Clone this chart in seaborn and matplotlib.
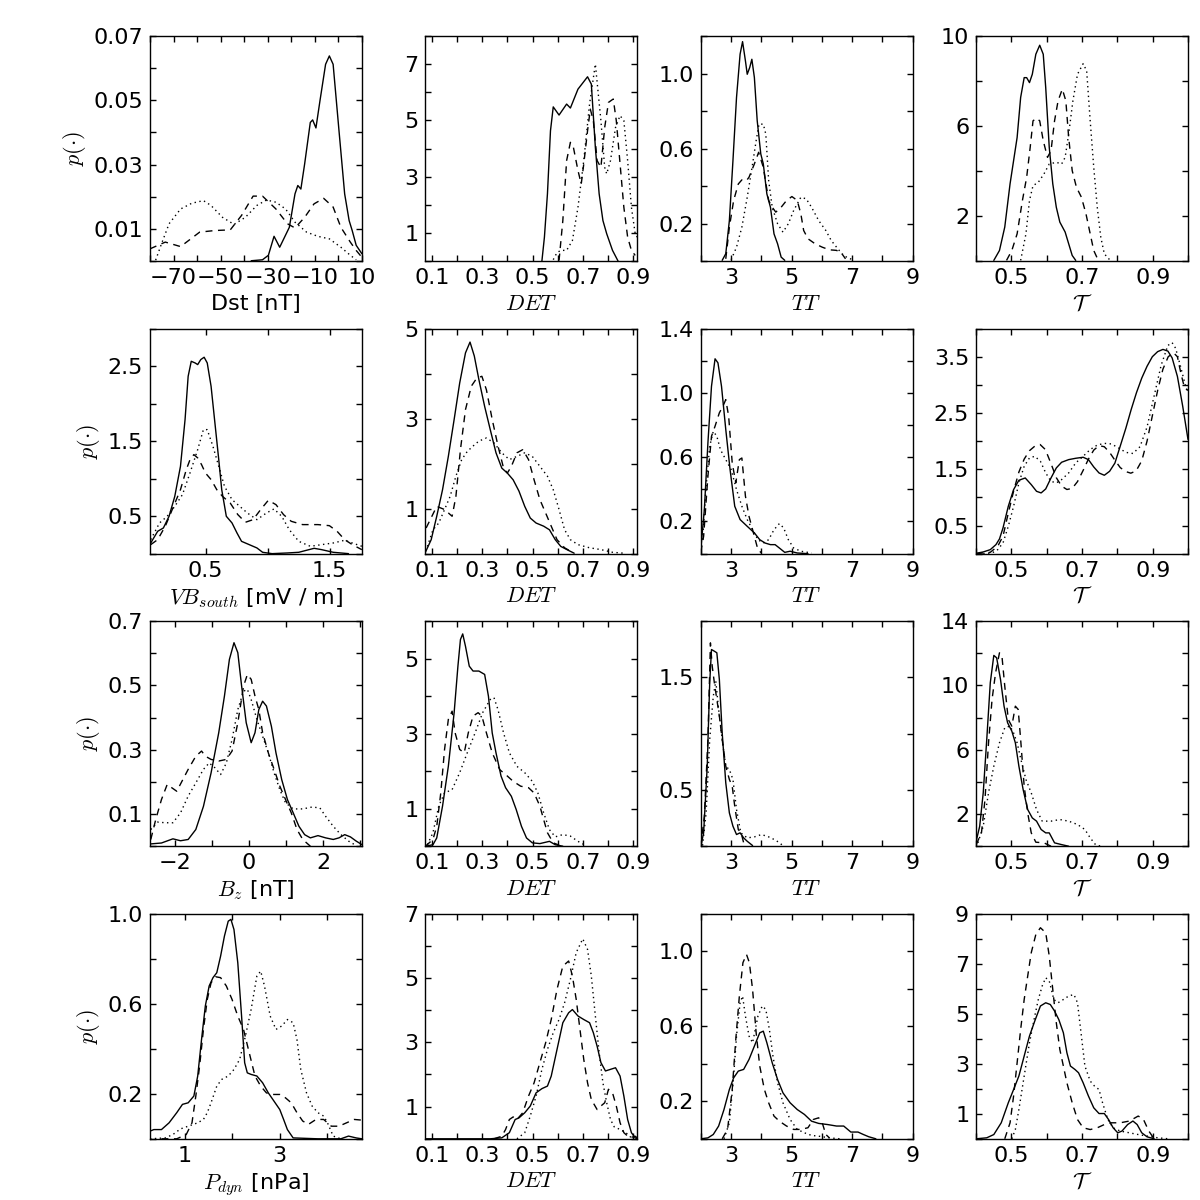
import numpy as np
import pandas as pd
import seaborn as sns
import matplotlib.pyplot as plt

# values (density curves, three per panel)

# ---- row 1: Dst ----
dst_solid_x = [-37.0, -32.2, -29.7, -27.3, -24.9, -20.8, -18.4, -17.2, -15.9, -14.3, -11.9, -10.9, -9.5, -7.8, -5.4, -3.8, -2.2, 0.3, 2.7, 4.6, 5.9, 7.6, 10.0]
dst_solid_y = [0.0001, 0.0004, 0.0018, 0.0077, 0.0043, 0.0105, 0.0209, 0.0235, 0.0224, 0.0302, 0.0431, 0.0439, 0.0414, 0.0498, 0.0612, 0.0638, 0.0612, 0.0405, 0.0209, 0.0126, 0.0095, 0.0049, 0.0023]
dst_dashed_x = [-80, -73.5, -67.0, -58.9, -52.4, -45.9, -41.1, -36.2, -32.2, -26.5, -21.6, -18.4, -14.3, -10.3, -6.2, -2.2, 1.1, 5.1, 7.6, 10.0]
dst_dashed_y = [0.0038, 0.0059, 0.0045, 0.0090, 0.0095, 0.0097, 0.0142, 0.0202, 0.0202, 0.0162, 0.0116, 0.0103, 0.0136, 0.0178, 0.0195, 0.0168, 0.0105, 0.0059, 0.0033, 0.0012]
dst_dotted_x = [-77.6, -75.1, -71.9, -67.0, -62.2, -57.3, -54.1, -49.2, -44.3, -39.5, -34.6, -30.5, -26.5, -22.4, -18.4, -13.5, -8.7, -3.8, 1.1, 5.1, 7.6]
dst_dotted_y = [0.0003, 0.0054, 0.0116, 0.0162, 0.0180, 0.0188, 0.0173, 0.0136, 0.0114, 0.0136, 0.0173, 0.0190, 0.0183, 0.0162, 0.0121, 0.0090, 0.0077, 0.0069, 0.0043, 0.0018, 0.0004]

det1_solid_x = [0.537, 0.547, 0.559, 0.571, 0.582, 0.605, 0.635, 0.650, 0.680, 0.718, 0.733, 0.749, 0.764, 0.779, 0.794, 0.817, 0.839]
det1_solid_y = [0.0, 0.85, 2.39, 4.63, 5.48, 5.19, 5.58, 5.44, 6.11, 6.55, 6.29, 4.04, 2.39, 1.44, 0.97, 0.38, 0.0]
det1_dashed_x = [0.605, 0.620, 0.635, 0.650, 0.662, 0.680, 0.693, 0.703, 0.718, 0.729, 0.741, 0.756, 0.771, 0.786, 0.801, 0.820, 0.832, 0.847, 0.862, 0.877, 0.892, 0.907]
det1_dashed_y = [0.02, 1.44, 3.57, 4.22, 4.04, 3.22, 2.74, 3.45, 4.63, 5.40, 4.99, 3.57, 3.33, 4.75, 5.64, 5.76, 4.99, 3.45, 1.91, 0.85, 0.38, 0.20]
det1_dotted_x = [0.582, 0.597, 0.612, 0.635, 0.658, 0.680, 0.703, 0.726, 0.749, 0.771, 0.786, 0.794, 0.809, 0.829, 0.847, 0.862, 0.877, 0.892, 0.907, 0.915]
det1_dotted_y = [0.05, 0.30, 0.38, 0.38, 0.73, 1.91, 3.57, 5.58, 7.0, 4.99, 3.33, 3.10, 3.57, 4.75, 5.17, 4.99, 3.57, 1.91, 0.97, 0.85]

tt1_solid_x = [2.708, 2.826, 2.945, 3.063, 3.181, 3.299, 3.381, 3.476, 3.535, 3.617, 3.688, 3.771, 3.865, 3.983, 4.066, 4.184, 4.302, 4.420, 4.538, 4.656, 4.775]
tt1_solid_y = [0.004, 0.039, 0.216, 0.535, 0.872, 1.103, 1.170, 1.067, 0.996, 1.032, 1.076, 0.979, 0.748, 0.571, 0.518, 0.358, 0.287, 0.145, 0.092, 0.021, 0.004]
tt1_dashed_x = [2.826, 2.945, 3.086, 3.240, 3.358, 3.511, 3.594, 3.771, 3.912, 4.066, 4.243, 4.361, 4.479, 4.656, 4.834, 5.011, 5.188, 5.306, 5.400, 5.542, 5.778, 6.014, 6.250, 6.486, 6.664, 6.782]
tt1_dashed_y = [0.012, 0.181, 0.323, 0.411, 0.433, 0.429, 0.447, 0.518, 0.580, 0.500, 0.323, 0.287, 0.261, 0.287, 0.323, 0.344, 0.323, 0.252, 0.163, 0.119, 0.092, 0.074, 0.060, 0.057, 0.039, 0.012]
tt1_dotted_x = [3.004, 3.181, 3.358, 3.535, 3.712, 3.830, 3.924, 4.066, 4.149, 4.243, 4.361, 4.538, 4.716, 4.893, 5.070, 5.306, 5.483, 5.660, 5.896, 6.132, 6.309, 6.486, 6.664, 6.841, 7.077]
tt1_dotted_y = [0.007, 0.074, 0.181, 0.340, 0.518, 0.642, 0.730, 0.730, 0.677, 0.429, 0.287, 0.199, 0.154, 0.199, 0.270, 0.340, 0.332, 0.287, 0.216, 0.163, 0.110, 0.074, 0.039, 0.018, 0.004]

tau1_solid_x = [0.450, 0.466, 0.481, 0.496, 0.506, 0.516, 0.526, 0.536, 0.543, 0.551, 0.559, 0.569, 0.580, 0.590, 0.597, 0.607, 0.617, 0.627, 0.637, 0.652, 0.662, 0.672, 0.682]
tau1_solid_y = [0.03, 0.47, 1.51, 3.43, 4.46, 5.49, 7.27, 8.15, 8.15, 7.93, 8.30, 9.19, 9.59, 9.19, 7.71, 5.05, 3.43, 2.39, 1.73, 1.29, 0.77, 0.25, 0.03]
tau1_dashed_x = [0.486, 0.501, 0.516, 0.531, 0.543, 0.553, 0.561, 0.571, 0.580, 0.590, 0.602, 0.612, 0.622, 0.632, 0.644, 0.654, 0.662, 0.672, 0.684, 0.698, 0.711, 0.723, 0.733, 0.745]
tau1_dashed_y = [0.03, 0.47, 1.21, 2.69, 3.72, 5.05, 6.23, 6.35, 6.23, 5.35, 4.61, 4.90, 6.23, 7.12, 7.64, 7.12, 5.49, 4.02, 3.28, 2.84, 2.10, 1.21, 0.47, 0.06]
tau1_dotted_x = [0.526, 0.541, 0.551, 0.561, 0.576, 0.592, 0.607, 0.627, 0.642, 0.652, 0.662, 0.674, 0.687, 0.703, 0.713, 0.723, 0.733, 0.743, 0.753, 0.763, 0.778]
tau1_dotted_y = [0.03, 1.21, 2.69, 3.35, 3.50, 3.87, 4.31, 4.39, 4.31, 4.61, 5.64, 7.12, 8.30, 8.77, 8.45, 6.23, 4.17, 2.39, 1.06, 0.32, 0.06]

# ---- row 2: VB_south ----
vb_solid_x = [0.056, 0.112, 0.158, 0.204, 0.250, 0.296, 0.333, 0.358, 0.383, 0.414, 0.435, 0.460, 0.487, 0.512, 0.543, 0.574, 0.605, 0.629, 0.666, 0.712, 0.752, 0.789, 0.851, 0.913, 0.959, 1.036, 1.159, 1.251, 1.375, 1.436, 1.529, 1.652]
vb_solid_y = [0.142, 0.298, 0.342, 0.498, 0.764, 1.164, 1.787, 2.364, 2.564, 2.542, 2.52, 2.587, 2.618, 2.542, 2.231, 1.742, 1.253, 0.853, 0.498, 0.409, 0.276, 0.164, 0.12, 0.076, 0.018, 0.0, 0.009, 0.018, 0.071, 0.053, 0.018, 0.0]
vb_dashed_x = [0.056, 0.112, 0.173, 0.235, 0.296, 0.343, 0.373, 0.404, 0.435, 0.466, 0.497, 0.543, 0.589, 0.635, 0.697, 0.759, 0.820, 0.882, 0.943, 1.005, 1.067, 1.128, 1.190, 1.282, 1.405, 1.498, 1.560, 1.621, 1.683, 1.760]
vb_dashed_y = [0.12, 0.187, 0.364, 0.609, 0.853, 1.120, 1.253, 1.320, 1.276, 1.187, 1.076, 0.987, 0.853, 0.764, 0.676, 0.520, 0.418, 0.453, 0.587, 0.711, 0.653, 0.520, 0.431, 0.387, 0.387, 0.373, 0.298, 0.187, 0.120, 0.053]
vb_dotted_x = [0.056, 0.127, 0.189, 0.250, 0.312, 0.373, 0.435, 0.481, 0.512, 0.558, 0.605, 0.651, 0.712, 0.774, 0.836, 0.913, 0.990, 1.051, 1.113, 1.174, 1.251, 1.344, 1.436, 1.529, 1.621, 1.683, 1.760]
vb_dotted_y = [0.187, 0.409, 0.498, 0.631, 0.787, 1.076, 1.387, 1.653, 1.653, 1.431, 1.164, 0.898, 0.720, 0.631, 0.542, 0.453, 0.542, 0.596, 0.498, 0.320, 0.164, 0.098, 0.120, 0.142, 0.178, 0.142, 0.098]

det2_solid_x = [0.075, 0.098, 0.120, 0.143, 0.166, 0.189, 0.211, 0.234, 0.252, 0.269, 0.287, 0.310, 0.332, 0.355, 0.378, 0.400, 0.423, 0.446, 0.469, 0.491, 0.514, 0.544, 0.567, 0.590, 0.612, 0.643, 0.665]
det2_solid_y = [0.03, 0.31, 0.83, 1.42, 2.16, 2.98, 3.79, 4.46, 4.70, 4.39, 3.87, 3.27, 2.76, 2.24, 1.90, 1.79, 1.64, 1.39, 1.05, 0.79, 0.68, 0.61, 0.53, 0.31, 0.16, 0.07, 0.01]
det2_dashed_x = [0.078, 0.120, 0.151, 0.181, 0.196, 0.214, 0.234, 0.257, 0.279, 0.299, 0.317, 0.340, 0.363, 0.385, 0.400, 0.416, 0.438, 0.461, 0.484, 0.506, 0.529, 0.552, 0.574, 0.597, 0.627, 0.658]
det2_dashed_y = [0.57, 1.05, 0.98, 0.83, 1.27, 2.31, 3.20, 3.72, 3.90, 3.94, 3.64, 2.98, 2.39, 1.90, 1.79, 1.94, 2.24, 2.31, 2.09, 1.64, 1.20, 0.90, 0.61, 0.31, 0.13, 0.03]
det2_dotted_x = [0.083, 0.105, 0.128, 0.151, 0.173, 0.196, 0.219, 0.241, 0.264, 0.287, 0.317, 0.347, 0.378, 0.408, 0.438, 0.469, 0.499, 0.529, 0.559, 0.582, 0.605, 0.627, 0.650, 0.680, 0.726, 0.771, 0.817, 0.862]
det2_dotted_y = [0.16, 0.53, 0.68, 0.98, 1.27, 1.72, 2.09, 2.27, 2.39, 2.50, 2.57, 2.46, 2.24, 2.09, 2.16, 2.24, 2.16, 1.94, 1.72, 1.42, 0.98, 0.53, 0.31, 0.20, 0.13, 0.09, 0.03, 0.01]

tt2_solid_x = [2.0, 2.118, 2.236, 2.354, 2.472, 2.567, 2.685, 2.826, 2.968, 3.122, 3.299, 3.535, 3.771, 3.948, 4.125, 4.302, 4.456, 4.597, 4.775, 4.952, 5.188, 5.542]
tt2_solid_y = [0.025, 0.274, 0.689, 1.041, 1.212, 1.187, 1.041, 0.772, 0.523, 0.295, 0.212, 0.170, 0.129, 0.087, 0.066, 0.056, 0.056, 0.035, 0.008, 0.015, 0.004, 0.0]
tt2_dashed_x = [2.0, 2.094, 2.236, 2.354, 2.472, 2.614, 2.732, 2.826, 2.921, 3.039, 3.157, 3.275, 3.358, 3.476, 3.594, 3.712, 3.830, 3.889, 4.007]
tt2_dashed_y = [0.008, 0.108, 0.481, 0.730, 0.793, 0.876, 0.917, 0.958, 0.855, 0.564, 0.440, 0.585, 0.595, 0.357, 0.232, 0.149, 0.066, 0.025, 0.004]
tt2_dotted_x = [2.059, 2.177, 2.295, 2.413, 2.531, 2.649, 2.826, 3.004, 3.181, 3.358, 3.535, 3.712, 3.889, 4.066, 4.243, 4.420, 4.597, 4.739, 4.893, 5.070, 5.306, 5.660]
tt2_dotted_y = [0.087, 0.419, 0.668, 0.761, 0.730, 0.647, 0.585, 0.523, 0.398, 0.295, 0.212, 0.149, 0.087, 0.066, 0.087, 0.149, 0.187, 0.160, 0.087, 0.035, 0.015, 0.004]

tau2_solid_x = [0.400, 0.420, 0.440, 0.456, 0.466, 0.476, 0.491, 0.506, 0.521, 0.539, 0.556, 0.571, 0.584, 0.597, 0.612, 0.627, 0.642, 0.662, 0.682, 0.703, 0.718, 0.733, 0.748, 0.763, 0.778, 0.793, 0.808, 0.824, 0.839, 0.854, 0.869, 0.884, 0.899, 0.914, 0.929, 0.943, 0.955, 0.970, 0.985, 1.0]
tau2_solid_y = [0.006, 0.030, 0.071, 0.160, 0.261, 0.456, 0.841, 1.138, 1.304, 1.345, 1.227, 1.108, 1.079, 1.150, 1.345, 1.523, 1.624, 1.671, 1.695, 1.713, 1.671, 1.541, 1.434, 1.393, 1.464, 1.61, 1.91, 2.23, 2.56, 2.86, 3.12, 3.33, 3.50, 3.59, 3.63, 3.60, 3.48, 3.15, 2.62, 2.03]
tau2_dashed_x = [0.400, 0.440, 0.461, 0.476, 0.491, 0.506, 0.521, 0.536, 0.551, 0.566, 0.581, 0.596, 0.612, 0.627, 0.642, 0.657, 0.672, 0.687, 0.703, 0.718, 0.733, 0.748, 0.763, 0.778, 0.793, 0.808, 0.823, 0.838, 0.853, 0.869, 0.884, 0.899, 0.914, 0.929, 0.944, 0.959, 0.970, 0.980, 0.990, 1.0]
tau2_dashed_y = [0.0, 0.024, 0.13, 0.31, 0.72, 1.11, 1.45, 1.68, 1.83, 1.91, 1.94, 1.85, 1.60, 1.35, 1.20, 1.14, 1.16, 1.28, 1.48, 1.68, 1.84, 1.92, 1.90, 1.80, 1.66, 1.53, 1.46, 1.43, 1.47, 1.65, 2.00, 2.45, 2.90, 3.28, 3.50, 3.57, 3.50, 3.20, 2.95, 2.90]
tau2_dotted_x = [0.420, 0.445, 0.461, 0.476, 0.491, 0.506, 0.521, 0.536, 0.551, 0.566, 0.582, 0.597, 0.612, 0.627, 0.642, 0.662, 0.682, 0.703, 0.723, 0.743, 0.763, 0.783, 0.803, 0.824, 0.844, 0.864, 0.884, 0.904, 0.924, 0.943, 0.955, 0.965, 0.980, 0.993, 1.0]
tau2_dotted_y = [0.0, 0.012, 0.071, 0.19, 0.486, 0.841, 1.256, 1.553, 1.701, 1.73, 1.641, 1.434, 1.286, 1.256, 1.316, 1.434, 1.612, 1.73, 1.85, 1.93, 1.96, 1.95, 1.88, 1.80, 1.78, 1.90, 2.25, 2.80, 3.35, 3.70, 3.75, 3.65, 3.30, 2.98, 2.86]

# ---- row 3: Bz ----
bz_solid_x = [-2.670, -2.361, -2.051, -1.845, -1.639, -1.433, -1.227, -1.021, -0.814, -0.660, -0.526, -0.402, -0.299, -0.196, -0.072, 0.062, 0.165, 0.268, 0.371, 0.474, 0.608, 0.732, 0.887, 1.041, 1.196, 1.351, 1.505, 1.660, 1.866, 2.072, 2.278, 2.433, 2.588, 2.742, 2.897, 3.052]
bz_solid_y = [0.007, 0.010, 0.023, 0.017, 0.021, 0.052, 0.124, 0.228, 0.353, 0.467, 0.581, 0.633, 0.602, 0.498, 0.384, 0.322, 0.353, 0.425, 0.451, 0.436, 0.373, 0.290, 0.207, 0.145, 0.104, 0.062, 0.036, 0.026, 0.033, 0.026, 0.021, 0.026, 0.036, 0.029, 0.016, 0.005]
bz_dashed_x = [-2.649, -2.515, -2.361, -2.206, -1.948, -1.639, -1.433, -1.278, -1.175, -1.021, -0.814, -0.608, -0.454, -0.299, -0.144, -0.041, 0.062, 0.165, 0.268, 0.371, 0.526, 0.681, 0.835, 0.990, 1.144, 1.299, 1.454, 1.660]
bz_dashed_y = [0.021, 0.083, 0.145, 0.192, 0.171, 0.239, 0.280, 0.296, 0.280, 0.270, 0.265, 0.270, 0.296, 0.384, 0.498, 0.534, 0.519, 0.467, 0.425, 0.353, 0.290, 0.239, 0.187, 0.145, 0.104, 0.052, 0.021, 0.0]
bz_dotted_x = [-2.649, -2.464, -2.258, -2.051, -1.845, -1.639, -1.433, -1.227, -1.072, -0.917, -0.763, -0.608, -0.454, -0.299, -0.144, -0.041, 0.062, 0.217, 0.371, 0.526, 0.681, 0.835, 0.990, 1.196, 1.454, 1.711, 1.918, 2.072, 2.278, 2.485, 2.691, 2.897]
bz_dotted_y = [0.052, 0.075, 0.073, 0.073, 0.104, 0.156, 0.197, 0.239, 0.259, 0.244, 0.223, 0.259, 0.332, 0.425, 0.482, 0.488, 0.456, 0.394, 0.342, 0.290, 0.228, 0.176, 0.135, 0.116, 0.116, 0.122, 0.119, 0.093, 0.062, 0.036, 0.016, 0.002]

det3_solid_x = [0.075, 0.105, 0.120, 0.143, 0.166, 0.189, 0.204, 0.214, 0.223, 0.234, 0.249, 0.264, 0.287, 0.310, 0.325, 0.340, 0.355, 0.375, 0.393, 0.416, 0.435, 0.456, 0.476, 0.499, 0.529, 0.567, 0.590, 0.620]
det3_solid_y = [0.0, 0.04, 0.22, 1.07, 2.13, 3.56, 4.80, 5.51, 5.66, 5.33, 4.80, 4.67, 4.67, 4.58, 4.00, 3.02, 2.49, 1.87, 1.56, 1.33, 0.98, 0.53, 0.22, 0.09, 0.07, 0.13, 0.04, 0.0]
det3_dashed_x = [0.075, 0.105, 0.120, 0.136, 0.151, 0.166, 0.181, 0.193, 0.211, 0.229, 0.245, 0.264, 0.284, 0.299, 0.317, 0.340, 0.370, 0.400, 0.423, 0.453, 0.484, 0.506, 0.529, 0.544, 0.559, 0.582, 0.605]
det3_dashed_y = [0.0, 0.18, 0.53, 1.42, 2.58, 3.38, 3.60, 3.02, 2.58, 2.49, 3.02, 3.47, 3.56, 3.47, 3.02, 2.49, 2.04, 1.87, 1.73, 1.60, 1.56, 1.42, 1.07, 0.71, 0.36, 0.09, 0.03]
det3_dotted_x = [0.083, 0.105, 0.128, 0.151, 0.181, 0.211, 0.241, 0.272, 0.302, 0.332, 0.347, 0.363, 0.385, 0.408, 0.438, 0.469, 0.499, 0.521, 0.544, 0.567, 0.590, 0.620, 0.650, 0.680, 0.711]
det3_dotted_y = [0.04, 0.36, 1.07, 1.42, 1.51, 1.96, 2.49, 3.02, 3.56, 3.91, 3.96, 3.64, 3.02, 2.49, 2.13, 1.96, 1.73, 1.42, 0.89, 0.44, 0.25, 0.31, 0.27, 0.13, 0.02]

tt3_solid_x = [2.0, 2.094, 2.213, 2.295, 2.354, 2.449, 2.531, 2.614, 2.708, 2.826, 2.945, 3.063, 3.181, 3.299, 3.417, 3.535, 3.712]
tt3_solid_y = [0.0, 0.119, 0.711, 1.452, 1.748, 1.733, 1.719, 1.481, 1.007, 0.563, 0.296, 0.178, 0.104, 0.119, 0.074, 0.044, 0.006]
tt3_dashed_x = [2.0, 2.118, 2.236, 2.319, 2.378, 2.449, 2.531, 2.614, 2.708, 2.826, 2.945, 3.039, 3.122, 3.240, 3.334, 3.417, 3.535]
tt3_dashed_y = [0.0, 0.267, 0.948, 1.807, 1.600, 1.452, 1.304, 1.156, 0.948, 0.711, 0.593, 0.533, 0.356, 0.148, 0.119, 0.030, 0.0]
tt3_dotted_x = [2.059, 2.177, 2.295, 2.413, 2.496, 2.590, 2.708, 2.826, 2.945, 3.063, 3.181, 3.322, 3.535, 3.771, 4.007, 4.243, 4.479, 4.716]
tt3_dotted_y = [0.006, 0.296, 0.948, 1.333, 1.467, 1.215, 0.948, 0.711, 0.681, 0.593, 0.326, 0.119, 0.074, 0.083, 0.104, 0.083, 0.053, 0.006]

tau3_solid_x = [0.400, 0.410, 0.420, 0.430, 0.440, 0.450, 0.458, 0.469, 0.479, 0.489, 0.501, 0.511, 0.521, 0.533, 0.546, 0.559, 0.571, 0.584, 0.597, 0.607, 0.622, 0.642, 0.662]
tau3_solid_y = [0.31, 1.24, 3.32, 6.64, 10.17, 11.87, 11.72, 10.37, 8.71, 7.68, 7.16, 6.43, 4.98, 3.53, 2.28, 1.76, 1.56, 1.04, 0.83, 0.83, 0.21, 0.10, 0.0]
tau3_dashed_x = [0.400, 0.415, 0.425, 0.435, 0.445, 0.455, 0.466, 0.473, 0.481, 0.491, 0.501, 0.511, 0.519, 0.526, 0.536, 0.546, 0.556, 0.569, 0.592, 0.612]
tau3_dashed_y = [0.10, 0.83, 2.90, 6.43, 9.13, 10.79, 12.03, 11.83, 9.96, 7.88, 7.47, 8.71, 8.51, 6.64, 3.73, 2.07, 0.83, 0.25, 0.21, 0.0]
tau3_dotted_x = [0.405, 0.420, 0.435, 0.450, 0.466, 0.481, 0.496, 0.506, 0.516, 0.529, 0.541, 0.556, 0.571, 0.587, 0.612, 0.637, 0.662, 0.687, 0.708, 0.723, 0.738, 0.753]
tau3_dotted_y = [0.21, 1.24, 3.32, 4.98, 6.43, 7.37, 7.47, 7.05, 6.43, 5.19, 4.15, 3.32, 2.28, 1.56, 1.56, 1.66, 1.56, 1.35, 1.04, 0.52, 0.10, 0.0]

# ---- row 4: Pdyn ----
pdyn_solid_x = [0.258, 0.339, 0.500, 0.661, 0.823, 0.944, 1.065, 1.185, 1.266, 1.347, 1.427, 1.508, 1.589, 1.669, 1.750, 1.831, 1.911, 1.968, 2.032, 2.113, 2.193, 2.258, 2.314, 2.395, 2.516, 2.637, 2.758, 2.879, 3.000, 3.081, 3.161, 3.282, 3.806, 4.290, 4.452, 4.613, 4.734]
pdyn_solid_y = [0.034, 0.041, 0.041, 0.071, 0.116, 0.153, 0.160, 0.190, 0.279, 0.441, 0.590, 0.679, 0.716, 0.738, 0.812, 0.901, 0.967, 0.975, 0.930, 0.782, 0.545, 0.338, 0.293, 0.286, 0.279, 0.249, 0.204, 0.167, 0.130, 0.086, 0.041, 0.004, 0.0, 0.0, 0.012, 0.004, 0.0]
pdyn_dashed_x = [0.500, 0.823, 1.024, 1.145, 1.226, 1.306, 1.387, 1.468, 1.548, 1.645, 1.750, 1.871, 1.992, 2.113, 2.234, 2.355, 2.476, 2.597, 2.718, 2.839, 3.000, 3.121, 3.242, 3.363, 3.484, 3.605, 3.766, 3.927, 4.089, 4.250, 4.411, 4.573, 4.734]
pdyn_dashed_y = [0.0, 0.0, 0.019, 0.071, 0.190, 0.323, 0.486, 0.619, 0.693, 0.720, 0.716, 0.679, 0.619, 0.545, 0.486, 0.382, 0.279, 0.234, 0.204, 0.197, 0.197, 0.182, 0.160, 0.116, 0.079, 0.064, 0.086, 0.086, 0.056, 0.056, 0.071, 0.086, 0.083]
pdyn_dotted_x = [0.258, 0.581, 0.742, 0.903, 1.065, 1.266, 1.387, 1.468, 1.548, 1.669, 1.774, 1.911, 2.032, 2.153, 2.274, 2.395, 2.516, 2.597, 2.677, 2.798, 2.919, 3.040, 3.161, 3.282, 3.363, 3.444, 3.565, 3.685, 3.806, 3.927, 4.008, 4.129, 4.290]
pdyn_dotted_y = [0.0, 0.004, 0.019, 0.044, 0.056, 0.071, 0.086, 0.116, 0.160, 0.234, 0.264, 0.279, 0.308, 0.353, 0.456, 0.575, 0.723, 0.745, 0.679, 0.545, 0.486, 0.501, 0.530, 0.516, 0.441, 0.308, 0.204, 0.145, 0.116, 0.101, 0.071, 0.012, 0.0]

det4_solid_x = [0.075, 0.332, 0.378, 0.408, 0.431, 0.446, 0.469, 0.491, 0.514, 0.537, 0.559, 0.574, 0.597, 0.620, 0.643, 0.658, 0.680, 0.703, 0.726, 0.741, 0.756, 0.771, 0.789, 0.809, 0.829, 0.847, 0.862, 0.877, 0.892, 0.907, 0.915]
det4_solid_y = [0.0, 0.0, 0.03, 0.19, 0.60, 0.65, 0.81, 1.02, 1.43, 1.56, 1.64, 1.95, 2.78, 3.61, 3.92, 4.02, 3.82, 3.71, 3.61, 3.30, 2.88, 2.37, 2.11, 2.16, 2.21, 1.95, 1.33, 0.60, 0.19, 0.03, 0.0]
det4_dashed_x = [0.347, 0.378, 0.393, 0.408, 0.423, 0.438, 0.461, 0.484, 0.506, 0.529, 0.552, 0.574, 0.597, 0.620, 0.643, 0.658, 0.673, 0.688, 0.703, 0.718, 0.733, 0.756, 0.771, 0.786, 0.801, 0.817, 0.832, 0.847, 0.862, 0.885, 0.907, 0.915]
det4_dashed_y = [0.0, 0.08, 0.29, 0.60, 0.68, 0.60, 0.81, 1.33, 1.74, 2.37, 2.99, 3.71, 4.65, 5.37, 5.53, 5.06, 4.34, 3.40, 2.47, 1.74, 1.22, 0.91, 1.02, 1.12, 1.54, 1.43, 1.02, 0.50, 0.19, 0.03, 0.08, 0.03]
det4_dotted_x = [0.438, 0.469, 0.491, 0.514, 0.537, 0.559, 0.582, 0.605, 0.627, 0.650, 0.673, 0.699, 0.718, 0.733, 0.749, 0.764, 0.779, 0.794, 0.809, 0.824, 0.847, 0.870, 0.892]
det4_dotted_y = [0.0, 0.19, 0.71, 1.33, 2.16, 2.78, 3.30, 3.71, 4.23, 4.96, 5.79, 6.22, 5.89, 5.06, 3.82, 2.68, 1.74, 1.12, 0.60, 0.37, 0.29, 0.19, 0.03]

tt4_solid_x = [2.0, 2.236, 2.413, 2.590, 2.767, 2.945, 3.086, 3.240, 3.417, 3.594, 3.771, 3.948, 4.066, 4.184, 4.361, 4.538, 4.716, 4.952, 5.188, 5.424, 5.660, 5.896, 6.191, 6.486, 6.723, 6.959, 7.195, 7.372, 7.549, 7.785]
tt4_solid_y = [0.0, 0.005, 0.023, 0.068, 0.156, 0.263, 0.325, 0.361, 0.370, 0.423, 0.494, 0.565, 0.574, 0.512, 0.405, 0.316, 0.245, 0.192, 0.156, 0.130, 0.094, 0.082, 0.076, 0.068, 0.068, 0.036, 0.036, 0.023, 0.011, 0.0]
tt4_dashed_x = [2.708, 2.885, 3.039, 3.157, 3.275, 3.393, 3.511, 3.606, 3.712, 3.830, 3.948, 4.102, 4.243, 4.420, 4.597, 4.834, 5.070, 5.306, 5.542, 5.719, 5.896, 6.014, 6.132, 6.250]
tt4_dashed_y = [0.0, 0.050, 0.263, 0.530, 0.761, 0.939, 0.983, 0.939, 0.796, 0.565, 0.388, 0.263, 0.192, 0.121, 0.094, 0.068, 0.050, 0.050, 0.059, 0.103, 0.112, 0.085, 0.023, 0.005]
tt4_dotted_x = [2.767, 2.945, 3.086, 3.181, 3.299, 3.381, 3.476, 3.594, 3.712, 3.889, 4.031, 4.149, 4.267, 4.385, 4.538, 4.716, 4.952, 5.188, 5.424, 5.660, 5.896, 6.250, 6.604]
tt4_dotted_y = [0.0, 0.085, 0.334, 0.548, 0.725, 0.761, 0.654, 0.548, 0.512, 0.654, 0.708, 0.690, 0.583, 0.441, 0.299, 0.192, 0.103, 0.050, 0.032, 0.018, 0.014, 0.005, 0.0]

tau4_solid_x = [0.400, 0.430, 0.450, 0.471, 0.491, 0.506, 0.521, 0.536, 0.551, 0.566, 0.582, 0.597, 0.610, 0.622, 0.634, 0.647, 0.657, 0.667, 0.680, 0.690, 0.703, 0.718, 0.733, 0.748, 0.763, 0.775, 0.788, 0.801, 0.813, 0.829, 0.844, 0.856, 0.869, 0.884, 0.904]
tau4_solid_y = [0.0, 0.04, 0.17, 0.64, 1.44, 1.97, 2.51, 3.31, 4.11, 4.71, 5.31, 5.44, 5.37, 5.11, 4.77, 4.24, 3.44, 2.91, 2.77, 2.64, 2.24, 1.71, 1.24, 1.01, 1.01, 0.77, 0.44, 0.24, 0.31, 0.57, 0.71, 0.57, 0.24, 0.08, 0.0]
tau4_dashed_x = [0.481, 0.496, 0.506, 0.516, 0.526, 0.536, 0.546, 0.556, 0.569, 0.582, 0.597, 0.607, 0.617, 0.627, 0.637, 0.647, 0.657, 0.672, 0.687, 0.703, 0.723, 0.743, 0.763, 0.783, 0.808, 0.834, 0.859, 0.874, 0.889, 0.904]
tau4_dashed_y = [0.0, 0.64, 1.71, 3.04, 4.37, 5.57, 6.51, 7.44, 8.17, 8.44, 8.24, 7.31, 5.97, 4.64, 3.57, 2.91, 2.24, 1.44, 0.77, 0.44, 0.37, 0.44, 0.57, 0.64, 0.64, 0.71, 0.91, 0.77, 0.31, 0.0]
tau4_dotted_x = [0.501, 0.511, 0.521, 0.536, 0.551, 0.566, 0.576, 0.587, 0.597, 0.607, 0.620, 0.632, 0.647, 0.662, 0.677, 0.687, 0.697, 0.708, 0.723, 0.735, 0.748, 0.758, 0.773, 0.788, 0.808, 0.834, 0.859, 0.884, 0.914, 0.945]
tau4_dotted_y = [0.0, 0.37, 1.17, 2.51, 3.84, 4.91, 5.57, 6.11, 6.44, 6.31, 5.57, 5.44, 5.57, 5.71, 5.77, 5.44, 4.24, 2.91, 2.31, 2.11, 1.97, 1.44, 0.77, 0.44, 0.31, 0.24, 0.17, 0.11, 0.04, 0.0]

# axis labels and y-axis tops / tick steps, row by row
x_labels = [['Dst [nT]', '$DET$', '$TT$', r'$\mathcal{T}$'],
            [r'$VB_{south}$ [mV / m]', '$DET$', '$TT$', r'$\mathcal{T}$'],
            ['$B_z$ [nT]', '$DET$', '$TT$', r'$\mathcal{T}$'],
            ['$P_{dyn}$ [nPa]', '$DET$', '$TT$', r'$\mathcal{T}$']]
y_tops = [[0.07, 8, 1.2, 10], [3.0, 5, 1.4, 4.0], [0.7, 6, 2.0, 14], [1.0, 7, 1.2, 9]]
y_steps = [[0.01, 1, 0.2, 2], [0.5, 1, 0.2, 0.5], [0.1, 1, 0.5, 2], [0.2, 1, 0.2, 1]]
y_fmts = [['{:.2f}', '{:.0f}', '{:.1f}', '{:.0f}'],
          ['{:.1f}', '{:.0f}', '{:.1f}', '{:.1f}'],
          ['{:.1f}', '{:.0f}', '{:.1f}', '{:.0f}'],
          ['{:.1f}', '{:.0f}', '{:.1f}', '{:.0f}']]

curves = [
    [(dst_solid_x, dst_solid_y, dst_dashed_x, dst_dashed_y, dst_dotted_x, dst_dotted_y),
     (det1_solid_x, det1_solid_y, det1_dashed_x, det1_dashed_y, det1_dotted_x, det1_dotted_y),
     (tt1_solid_x, tt1_solid_y, tt1_dashed_x, tt1_dashed_y, tt1_dotted_x, tt1_dotted_y),
     (tau1_solid_x, tau1_solid_y, tau1_dashed_x, tau1_dashed_y, tau1_dotted_x, tau1_dotted_y)],
    [(vb_solid_x, vb_solid_y, vb_dashed_x, vb_dashed_y, vb_dotted_x, vb_dotted_y),
     (det2_solid_x, det2_solid_y, det2_dashed_x, det2_dashed_y, det2_dotted_x, det2_dotted_y),
     (tt2_solid_x, tt2_solid_y, tt2_dashed_x, tt2_dashed_y, tt2_dotted_x, tt2_dotted_y),
     (tau2_solid_x, tau2_solid_y, tau2_dashed_x, tau2_dashed_y, tau2_dotted_x, tau2_dotted_y)],
    [(bz_solid_x, bz_solid_y, bz_dashed_x, bz_dashed_y, bz_dotted_x, bz_dotted_y),
     (det3_solid_x, det3_solid_y, det3_dashed_x, det3_dashed_y, det3_dotted_x, det3_dotted_y),
     (tt3_solid_x, tt3_solid_y, tt3_dashed_x, tt3_dashed_y, tt3_dotted_x, tt3_dotted_y),
     (tau3_solid_x, tau3_solid_y, tau3_dashed_x, tau3_dashed_y, tau3_dotted_x, tau3_dotted_y)],
    [(pdyn_solid_x, pdyn_solid_y, pdyn_dashed_x, pdyn_dashed_y, pdyn_dotted_x, pdyn_dotted_y),
     (det4_solid_x, det4_solid_y, det4_dashed_x, det4_dashed_y, det4_dotted_x, det4_dotted_y),
     (tt4_solid_x, tt4_solid_y, tt4_dashed_x, tt4_dashed_y, tt4_dotted_x, tt4_dotted_y),
     (tau4_solid_x, tau4_solid_y, tau4_dashed_x, tau4_dashed_y, tau4_dotted_x, tau4_dotted_y)],
]

# x axes: limits, ticks, and whether the first tick carries a label
first_col_x = [((-80, 10), np.arange(-80, 11, 10), False, '{:.0f}'),
               ((0.05, 1.76), np.array([0.5, 1.0, 1.5]), True, '{:.1f}'),
               ((-2.67, 3.05), np.arange(-3, 4, 1), False, '{:.0f}'),
               ((0.258, 4.734), np.arange(1, 5, 1), True, '{:.0f}')]
det_x = ((0.075, 0.915), np.arange(0.1, 0.95, 0.1), True, '{:.1f}')
tt_x = ((2, 9), np.arange(2, 10, 1), False, '{:.0f}')
tau_x = ((0.4, 1.0), np.arange(0.4, 1.05, 0.1), False, '{:.1f}')


def every_other(ticks, first_on, fmt):
    out = []
    for i, t in enumerate(ticks):
        show = (i % 2 == 0) if first_on else (i % 2 == 1)
        out.append(fmt.format(t).replace('-', '\u2212') if show else '')
    return out


def long_frame(sx, sy, dx, dy, ox, oy):
    parts = [pd.DataFrame({'x': sx, 'y': sy, 'kind': 'solid'}),
             pd.DataFrame({'x': dx, 'y': dy, 'kind': 'dashed'}),
             pd.DataFrame({'x': ox, 'y': oy, 'kind': 'dotted'})]
    return pd.concat(parts, ignore_index=True)


sns.set_style('ticks')
plt.rcParams.update({
    'font.family': 'DejaVu Sans',
    'mathtext.fontset': 'cm',
    'axes.edgecolor': 'black',
    'axes.linewidth': 1.0,
    'axes.labelcolor': 'black',
    'text.color': 'black',
    'xtick.color': 'black',
    'ytick.color': 'black',
    'xtick.direction': 'in',
    'ytick.direction': 'in',
    'xtick.top': True,
    'ytick.right': True,
    'xtick.major.size': 4,
    'ytick.major.size': 4,
    'xtick.major.width': 1,
    'ytick.major.width': 1,
    'xtick.major.pad': 5,
    'ytick.major.pad': 5,
    'xtick.labelsize': 16,
    'ytick.labelsize': 16,
    'axes.labelsize': 16,
})

fig, axes = plt.subplots(4, 4, figsize=(12, 12), dpi=100)
fig.subplots_adjust(left=0.125, right=0.99, top=0.97, bottom=0.051, wspace=0.3, hspace=0.3)

dash_map = {'solid': '', 'dashed': (5, 4), 'dotted': (1, 2.5)}

for r in range(4):
    for c in range(4):
        ax = axes[r, c]
        df = long_frame(*curves[r][c])
        sns.lineplot(data=df, x='x', y='y', style='kind',
                     style_order=['solid', 'dashed', 'dotted'], dashes=dash_map,
                     color='k', linewidth=1.0, estimator=None, sort=False,
                     legend=False, ax=ax)

        xspec = first_col_x[r] if c == 0 else (det_x, tt_x, tau_x)[c - 1]
        lims, xt, first_on, xfmt = xspec
        ax.set_xticks(xt)
        ax.set_xticklabels(every_other(xt, first_on, xfmt))
        ax.set_xlim(*lims)

        top, step = y_tops[r][c], y_steps[r][c]
        yt = np.arange(0, top + step / 2, step)
        ax.set_yticks(yt)
        ax.set_yticklabels(every_other(yt, False, y_fmts[r][c]))
        ax.set_ylim(0, top)

        ax.set_xlabel(x_labels[r][c], fontsize=16)
        ax.set_ylabel(r'$p(\cdot)$' if c == 0 else '', fontsize=16)
        ax.tick_params(which='both', top=True, right=True, direction='in')
        for sp in ax.spines.values():
            sp.set_visible(True)
            sp.set_color('black')
            sp.set_linewidth(1.0)

fig.savefig('out.png', dpi=100, facecolor='white')
